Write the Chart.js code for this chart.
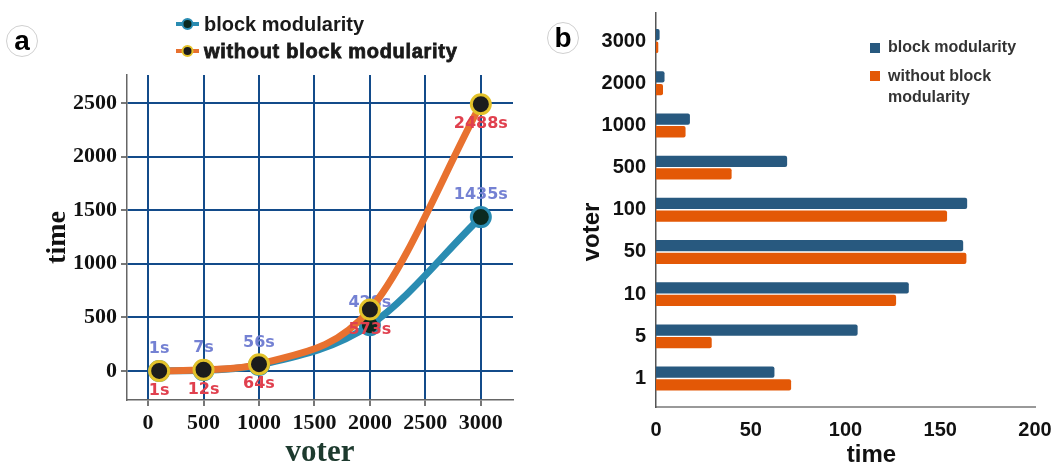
<!DOCTYPE html>
<html><head><meta charset="utf-8">
<script src="https://cdn.jsdelivr.net/npm/chart.js@4.4.1/dist/chart.umd.min.js"></script>
<style>
html,body{margin:0;padding:0;background:#fff;}
#wrap{position:relative;width:1056px;height:465px;overflow:hidden;background:#fff;}
#c1{position:absolute;left:0;top:0;}
#c2{position:absolute;left:530px;top:0;}
</style></head><body>
<div id="wrap"><canvas id="c1" width="530" height="465"></canvas><canvas id="c2" width="526" height="465"></canvas></div>
<script>
// ---- data (panel a) ----
const seriesNames = ['block modularity', 'without block modularity'];
const voters = [100, 500, 1000, 2000, 3000];
const timeBlock = [1, 7, 56, 428, 1435];
const timeWithout = [1, 12, 64, 573, 2488];
const lineXTicks = [0, 500, 1000, 1500, 2000, 2500, 3000];
const lineYTicks = [0, 500, 1000, 1500, 2000, 2500];

// ---- data (panel b) ----
const barCategories = ['3000', '2000', '1000', '500', '100', '50', '10', '5', '1'];
const barBlock = [1.9, 4.5, 17.9, 69.2, 164.2, 162.1, 133.4, 106.4, 62.5];
const barWithout = [1.2, 3.7, 15.6, 39.9, 153.6, 163.8, 126.7, 29.4, 71.3];
const barXTicks = [0, 50, 100, 150, 200];

const BLUE_LINE = '#2a8cb2', ORANGE_LINE = '#e8712f';
const BLUE_BAR = '#28597f', ORANGE_BAR = '#e35806';
const SANS = '"Liberation Sans", Arial, sans-serif';
const SERIF = '"Liberation Serif", "Times New Roman", serif';

function circleLetter(ctx, x, y, letter) {
  ctx.save();
  ctx.beginPath(); ctx.arc(x, y, 15.5, 0, Math.PI * 2);
  ctx.fillStyle = '#fff'; ctx.fill();
  ctx.strokeStyle = '#d0d0d0'; ctx.lineWidth = 1; ctx.stroke();
  ctx.fillStyle = '#000'; ctx.font = 'bold 28px ' + SANS;
  ctx.textAlign = 'center'; ctx.textBaseline = 'middle';
  ctx.fillText(letter, x, y + 1);
  ctx.restore();
}

const pointLabels = {
  id: 'pointLabels',
  afterDatasetDraw(chart, args) {
    const ds = chart.data.datasets[args.index];
    const ctx = chart.ctx;
    ctx.save();
    ctx.font = 'bold 16px "DejaVu Sans", Verdana, sans-serif';
    ctx.fillStyle = ds.labelColor;
    ctx.textAlign = 'center'; ctx.textBaseline = 'middle';
    args.meta.data.forEach((pt, i) => {
      ctx.fillText(ds.data[i].y + 's', pt.x, pt.y + ds.labelOffset);
    });
    ctx.restore();
  }
};

const lineDecor = {
  id: 'lineDecor',
  afterDraw(chart) {
    const ctx = chart.ctx;
    circleLetter(ctx, 22, 41, 'a');
    const items = [
      {ds: chart.data.datasets[1], y: 24, spacing: '0px', stroke: 0},
      {ds: chart.data.datasets[0], y: 51, spacing: '0.7px', stroke: 0.8}
    ];
    items.forEach(it => {
      const ds = it.ds;
      ctx.save();
      ctx.strokeStyle = ds.borderColor; ctx.lineWidth = 4;
      ctx.beginPath(); ctx.moveTo(176, it.y); ctx.lineTo(199, it.y); ctx.stroke();
      ctx.beginPath(); ctx.arc(187.5, it.y, 5, 0, Math.PI * 2);
      ctx.fillStyle = ds.pointBackgroundColor; ctx.fill();
      ctx.lineWidth = 2; ctx.strokeStyle = ds.pointBorderColor; ctx.stroke();
      ctx.font = 'bold 20px ' + SANS;
      if ('letterSpacing' in ctx) ctx.letterSpacing = it.spacing;
      ctx.fillStyle = '#1a1a1a'; ctx.textAlign = 'left'; ctx.textBaseline = 'middle';
      ctx.fillText(ds.label, 204, it.y + 1);
      if (it.stroke) { ctx.strokeStyle = '#1a1a1a'; ctx.lineWidth = it.stroke; ctx.strokeText(ds.label, 204, it.y + 1); }
      ctx.restore();
    });
  }
};

new Chart(document.getElementById('c1'), {
  type: 'line',
  data: {
    datasets: [
      {
        label: seriesNames[1],
        data: voters.map((v, i) => ({x: v, y: timeWithout[i]})),
        borderColor: ORANGE_LINE, borderWidth: 7,
        pointRadius: 9.5, pointBorderWidth: 3,
        pointBackgroundColor: '#1c1c1c', pointBorderColor: '#e3c22a',
        cubicInterpolationMode: 'monotone', order: 0,
        labelColor: '#e0404e', labelOffset: 20
      },
      {
        label: seriesNames[0],
        data: voters.map((v, i) => ({x: v, y: timeBlock[i]})),
        borderColor: BLUE_LINE, borderWidth: 7,
        pointRadius: 9.5, pointBorderWidth: 3,
        pointBackgroundColor: '#0b2a20', pointBorderColor: BLUE_LINE,
        cubicInterpolationMode: 'monotone', order: 1,
        labelColor: '#7481d3', labelOffset: -22
      }
    ]
  },
  options: {
    responsive: false, animation: false, devicePixelRatio: 1,
    layout: {padding: {left: 0, right: 17, top: 75, bottom: 0}},
    plugins: {legend: {display: false}, tooltip: {enabled: false}},
    scales: {
      x: {
        type: 'linear', min: -190, max: 3290,
        afterBuildTicks: s => { s.ticks = lineXTicks.map(v => ({value: v})); },
        afterFit: s => { s.height = 65; },
        grid: {color: '#134b8a', lineWidth: 2, tickLength: 6, tickColor: '#777'},
        border: {color: '#666', width: 1.5},
        ticks: {font: {family: SERIF, weight: 'bold', size: 22}, color: '#111', padding: 4, maxRotation: 0, autoSkip: false,
          callback: v => String(v)},
        title: {display: true, text: 'voter', color: '#1d3a2e',
          font: {family: SERIF, weight: 'bold', size: 31, lineHeight: 1}, padding: {top: 0, bottom: -3}}
      },
      y: {
        type: 'linear', min: -270, max: 2760,
        afterBuildTicks: s => { s.ticks = lineYTicks.map(v => ({value: v})); },
        afterFit: s => { s.width = 127; },
        grid: {color: '#134b8a', lineWidth: 2, tickLength: 6, tickColor: '#777'},
        border: {color: '#666', width: 1.5},
        ticks: {font: {family: SERIF, weight: 'bold', size: 22}, color: '#111', padding: 4, autoSkip: false,
          callback: v => String(v)},
        title: {display: true, text: 'time', color: '#111',
          font: {family: SERIF, weight: 'bold', size: 28, lineHeight: 1.2}, padding: {top: 41, bottom: 0}}
      }
    }
  },
  plugins: [pointLabels, lineDecor]
});

const barDecor = {
  id: 'barDecor',
  afterDraw(chart) {
    const ctx = chart.ctx;
    circleLetter(ctx, 33, 38, 'b');
    const ds = chart.data.datasets;
    ctx.save();
    ctx.fillStyle = ds[0].backgroundColor; ctx.fillRect(340, 43, 10, 10);
    ctx.fillStyle = ds[1].backgroundColor; ctx.fillRect(340, 71, 10, 10);
    ctx.fillStyle = '#333'; ctx.font = 'bold 16px ' + SANS;
    ctx.textAlign = 'left'; ctx.textBaseline = 'middle';
    ctx.fillText(ds[0].label, 358, 48);
    const words = ds[1].label.split(' ');
    ctx.fillText(words.slice(0, 2).join(' '), 358, 77);
    ctx.fillText(words.slice(2).join(' '), 358, 98);
    // axis titles
    ctx.fillStyle = '#111'; ctx.font = 'bold 24px ' + SANS;
    ctx.textAlign = 'center'; ctx.textBaseline = 'alphabetic';
    ctx.fillText('time', 341.5, 462);
    ctx.translate(69, 232); ctx.rotate(-Math.PI / 2);
    ctx.fillText('voter', 0, 0);
    ctx.restore();
  }
};

new Chart(document.getElementById('c2'), {
  type: 'bar',
  data: {
    datasets: [
      {label: seriesNames[0], data: barBlock.map((v, i) => ({x: v, y: i})),
       backgroundColor: BLUE_BAR, borderRadius: 2, borderSkipped: 'start'},
      {label: seriesNames[1], data: barWithout.map((v, i) => ({x: v, y: i})),
       backgroundColor: ORANGE_BAR, borderRadius: 2, borderSkipped: 'start'}
    ]
  },
  options: {
    indexAxis: 'y',
    responsive: false, animation: false, devicePixelRatio: 1,
    layout: {padding: {left: 0, right: 21, top: 13, bottom: 0}},
    datasets: {bar: {categoryPercentage: 0.6, barPercentage: 0.89}},
    plugins: {legend: {display: false}, tooltip: {enabled: false}},
    scales: {
      x: {
        type: 'linear', min: 0, max: 200,
        afterBuildTicks: s => { s.ticks = barXTicks.map(v => ({value: v})); },
        afterFit: s => { s.height = 58; s.paddingLeft = 0; s.paddingRight = 0; },
        grid: {display: false, drawTicks: false},
        border: {color: '#999', width: 2},
        ticks: {font: {family: SANS, weight: 'bold', size: 20}, color: '#111', padding: 11, maxRotation: 0, autoSkip: false}
      },
      y: {
        type: 'linear', reverse: true, offset: false, min: -0.665, max: 8.675,
        afterBuildTicks: s => { s.ticks = barCategories.map((c, i) => ({value: i})); },
        afterFit: s => { s.width = 126; s.paddingTop = 0; s.paddingBottom = 0; },
        grid: {display: false, drawTicks: false, offset: false},
        border: {color: '#555', width: 1.5},
        ticks: {font: {family: SANS, weight: 'bold', size: 20}, color: '#111', padding: 10, autoSkip: false,
          callback: v => barCategories[v]}
      }
    }
  },
  plugins: [barDecor]
});
</script>
</body></html>
